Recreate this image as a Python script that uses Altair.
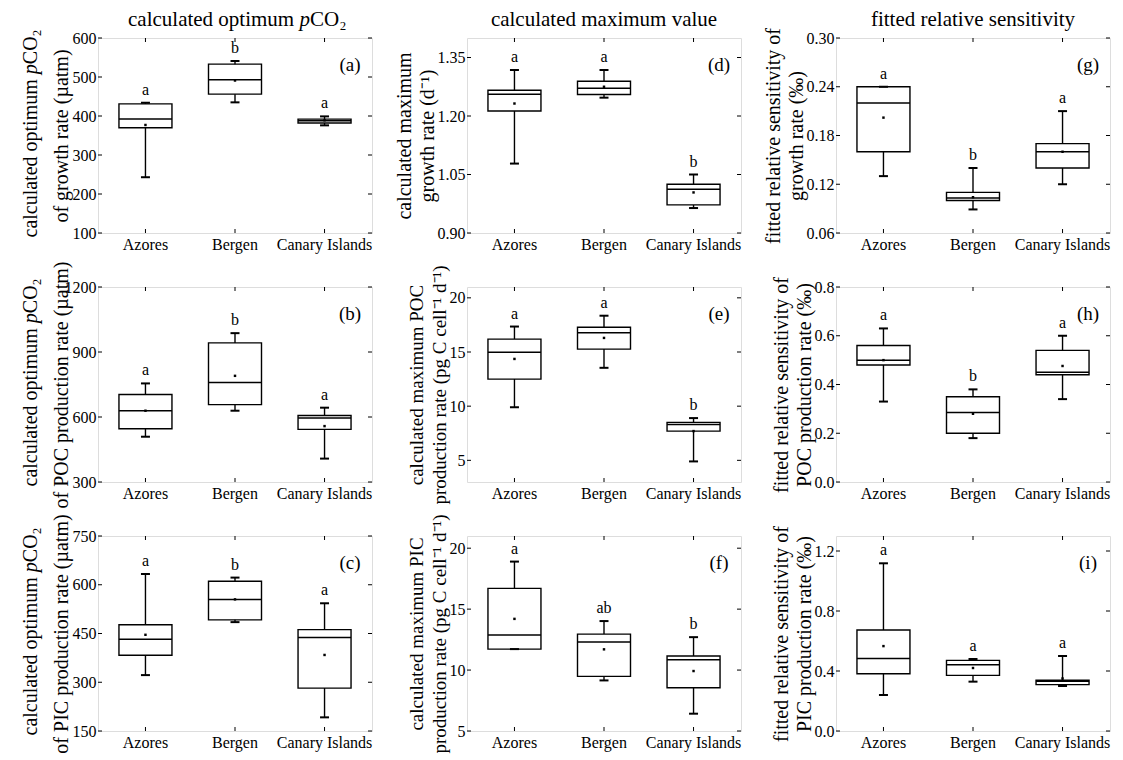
import altair as alt
import pandas as pd

SITES = ["Azores", "Bergen", "Canary Islands"]

# (a) optimum pCO2 of growth rate
a_low = [243, 435, 376]
a_q1 = [370, 456, 382]
a_med = [392, 493, 388]
a_q3 = [431, 533, 392]
a_high = [434, 541, 399]
a_mean = [377, 491, 389]
a_sig = ["a", "b", "a"]
a_ticks = [100, 200, 300, 400, 500, 600]

# (b) optimum pCO2 of POC production rate
b_low = [509, 629, 408]
b_q1 = [546, 657, 543]
b_med = [629, 759, 595]
b_q3 = [704, 942, 607]
b_high = [755, 987, 643]
b_mean = [629, 790, 558]
b_sig = ["a", "b", "a"]
b_ticks = [300, 600, 900, 1200]

# (c) optimum pCO2 of PIC production rate
c_low = [322, 485, 192]
c_q1 = [383, 492, 282]
c_med = [432, 555, 438]
c_q3 = [477, 611, 462]
c_high = [633, 622, 543]
c_mean = [446, 555, 384]
c_sig = ["a", "b", "a"]
c_ticks = [150, 300, 450, 600, 750]

# (d) maximum growth rate
d_low = [1.078, 1.247, 0.964]
d_q1 = [1.213, 1.255, 0.972]
d_med = [1.256, 1.271, 1.012]
d_q3 = [1.266, 1.289, 1.025]
d_high = [1.318, 1.318, 1.050]
d_mean = [1.232, 1.275, 1.004]
d_sig = ["a", "a", "b"]
d_ticks = [0.90, 1.05, 1.20, 1.35]

# (e) maximum POC production rate
e_low = [9.9, 13.54, 4.9]
e_q1 = [12.5, 15.27, 7.7]
e_med = [14.97, 16.77, 8.3]
e_q3 = [16.19, 17.29, 8.5]
e_high = [17.35, 18.35, 8.9]
e_mean = [14.36, 16.3, 7.7]
e_sig = ["a", "a", "b"]
e_ticks = [5, 10, 15, 20]

# (f) maximum PIC production rate
f_low = [11.72, 9.15, 6.42]
f_q1 = [11.72, 9.48, 8.55]
f_med = [12.87, 12.3, 10.85]
f_q3 = [16.7, 12.95, 11.15]
f_high = [18.9, 14.02, 12.7]
f_mean = [14.2, 11.7, 9.92]
f_sig = ["a", "ab", "b"]
f_ticks = [5, 10, 15, 20]

# (g) relative sensitivity of growth rate
g_low = [0.13, 0.089, 0.12]
g_q1 = [0.16, 0.100, 0.14]
g_med = [0.22, 0.103, 0.16]
g_q3 = [0.24, 0.110, 0.17]
g_high = [0.24, 0.140, 0.21]
g_mean = [0.202, 0.104, 0.16]
g_sig = ["a", "b", "a"]
g_ticks = [0.06, 0.12, 0.18, 0.24, 0.30]

# (h) relative sensitivity of POC production rate
h_low = [0.33, 0.18, 0.34]
h_q1 = [0.48, 0.20, 0.44]
h_med = [0.50, 0.285, 0.45]
h_q3 = [0.56, 0.35, 0.54]
h_high = [0.63, 0.38, 0.60]
h_mean = [0.50, 0.28, 0.476]
h_sig = ["a", "b", "a"]
h_ticks = [0.0, 0.2, 0.4, 0.6, 0.8]

# (i) relative sensitivity of PIC production rate
i_low = [0.24, 0.329, 0.30]
i_q1 = [0.382, 0.371, 0.309]
i_med = [0.484, 0.442, 0.331]
i_q3 = [0.673, 0.471, 0.338]
i_high = [1.118, 0.48, 0.50]
i_mean = [0.566, 0.42, 0.35]
i_sig = ["a", "a", "a"]
i_ticks = [0.0, 0.4, 0.8, 1.2]

FONT = "Liberation Serif"
W, H = 274, 195
BOX_W = 53
TK = 4
ONE = pd.DataFrame({"k": [0]})


def txt(s, x, y, size, align="left", angle=0, style="normal"):
    return alt.Chart(ONE).mark_text(
        text=s, font=FONT, fontSize=size, align=align, baseline="alphabetic",
        angle=angle, fontStyle=style, color="black").encode(x=alt.value(x), y=alt.value(y))


def pco2_pieces(size, start, fixed, vertical):
    # "calculated optimum " + italic "p" + "CO₂", laid out piece by piece
    w1 = 8.166 * size
    wp = 0.5 * size
    if vertical:
        return [txt("calculated optimum ", fixed, start, size, angle=270),
                txt("p", fixed, start - w1, size, angle=270, style="italic"),
                txt("CO₂", fixed, start - w1 - wp, size, angle=270)]
    return [txt("calculated optimum ", start, fixed, size),
            txt("p", start + w1, fixed, size, style="italic"),
            txt("CO₂", start + w1 + wp, fixed, size)]


def panel(label, low, q1, med, q3, high, mean, sig, ticks, domain, fmt, ytitle,
          coltitle=None, ext=None, tsize=20):
    df = pd.DataFrame({"site": SITES, "low": low, "q1": q1, "med": med,
                       "q3": q3, "high": high, "mean": mean, "sig": sig})
    tdf = pd.DataFrame({"v": ticks})
    xs = alt.Scale(domain=SITES, paddingInner=0, paddingOuter=0.03)
    xax = alt.Axis(title=None, labelAngle=0, ticks=False, domain=False, grid=False,
                   labelFont=FONT, labelFontSize=16, labelColor="black", labelPadding=3)
    ys = alt.Scale(domain=domain, nice=False, zero=False)
    ykw = dict(values=ticks, format=fmt, ticks=False, domain=False, grid=False,
               labelFont=FONT, labelFontSize=16, labelColor="black", labelPadding=2,
               labelFlush=False, labelOverlap=False, labelBound=False,
               title=ytitle, titleFont=FONT, titleFontSize=tsize, titleFontWeight="normal",
               titleColor="black", titleLineHeight=23, titlePadding=0)
    if ext is not None:
        ykw["minExtent"] = ext
        ykw["maxExtent"] = ext
    yax = alt.Axis(**ykw)

    def X():
        return alt.X("site:N", scale=xs, axis=xax)

    def Y(f):
        return alt.Y(f, scale=ys, axis=yax)

    base = alt.Chart(df)
    whisk = base.mark_rule(color="black", strokeWidth=1.4).encode(x=X(), y=Y("low:Q"), y2="high:Q")
    box = base.mark_bar(size=BOX_W, fill="white", stroke="black", strokeWidth=1.4).encode(
        x=X(), y=Y("q1:Q"), y2="q3:Q")
    median = base.mark_tick(size=BOX_W, thickness=1.5, color="black", opacity=1).encode(
        x=X(), y=Y("med:Q"))
    cap_lo = base.mark_tick(size=9, thickness=2, color="black", opacity=1).encode(x=X(), y=Y("low:Q"))
    cap_hi = base.mark_tick(size=9, thickness=2, color="black", opacity=1).encode(x=X(), y=Y("high:Q"))
    mn = base.mark_square(size=6, color="black", opacity=1).encode(x=X(), y=Y("mean:Q"))
    letters = base.mark_text(font=FONT, fontSize=16, dy=-13, baseline="middle", color="black").encode(
        x=X(), y=Y("high:Q"), text="sig:N")
    tick_l = alt.Chart(tdf).mark_rule(color="black", strokeWidth=1).encode(
        x=alt.value(0), x2=alt.value(TK), y=Y("v:Q"))
    tick_r = alt.Chart(tdf).mark_rule(color="black", strokeWidth=1).encode(
        x=alt.value(W - TK), x2=alt.value(W), y=Y("v:Q"))
    tick_b = base.mark_rule(color="black", strokeWidth=1).encode(
        x=X(), y=alt.value(H), y2=alt.value(H - TK))
    tick_t = base.mark_rule(color="black", strokeWidth=1).encode(
        x=X(), y=alt.value(0), y2=alt.value(TK))
    lab = alt.Chart(pd.DataFrame({"t": [label]})).mark_text(
        font=FONT, fontSize=19, align="center", baseline="middle", color="black").encode(
        x=alt.value(W - 22), y=alt.value(27), text="t:N")
    layers = [tick_l, tick_r, tick_b, tick_t, whisk, box, median, cap_lo, cap_hi, mn, letters, lab]
    if ext is not None:
        # first line of the y title, with an italic p
        layers += pco2_pieces(20, H / 2 - 2 + 104, -61, vertical=True)
    if coltitle == "pco2":
        layers += pco2_pieces(21, 30, -12, vertical=False)
    elif coltitle:
        layers.append(txt(coltitle, W / 2, -12, 21, align="center"))
    return alt.layer(*layers).properties(width=W, height=H)


pa = panel("(a)", a_low, a_q1, a_med, a_q3, a_high, a_mean, a_sig, a_ticks, [100, 600], "d",
           "of growth rate (µatm)", coltitle="pco2", ext=27)
pb = panel("(b)", b_low, b_q1, b_med, b_q3, b_high, b_mean, b_sig, b_ticks, [300, 1200], "d",
           "of POC production rate (µatm)", ext=27)
pc = panel("(c)", c_low, c_q1, c_med, c_q3, c_high, c_mean, c_sig, c_ticks, [150, 750], "d",
           "of PIC production rate (µatm)", ext=27)
pd_ = panel("(d)", d_low, d_q1, d_med, d_q3, d_high, d_mean, d_sig, d_ticks, [0.9, 1.4], ".2f",
            ["calculated maximum", "growth rate (d⁻¹)"], coltitle="calculated maximum value")
pe = panel("(e)", e_low, e_q1, e_med, e_q3, e_high, e_mean, e_sig, e_ticks, [3, 21], "d",
           ["calculated maximum POC", "production rate (pg C cell⁻¹ d⁻¹)"], tsize=19)
pf = panel("(f)", f_low, f_q1, f_med, f_q3, f_high, f_mean, f_sig, f_ticks, [5, 21], "d",
           ["calculated maximum PIC", "production rate (pg C cell⁻¹ d⁻¹)"], tsize=19)
pg = panel("(g)", g_low, g_q1, g_med, g_q3, g_high, g_mean, g_sig, g_ticks, [0.06, 0.30], ".2f",
           ["fitted relative sensitivity of", "growth rate (‰)"], coltitle="fitted relative sensitivity")
ph = panel("(h)", h_low, h_q1, h_med, h_q3, h_high, h_mean, h_sig, h_ticks, [0.0, 0.8], ".1f",
           ["fitted relative sensitivity of", "POC production rate (‰)"])
pi = panel("(i)", i_low, i_q1, i_med, i_q3, i_high, i_mean, i_sig, i_ticks, [0.0, 1.3], ".1f",
           ["fitted relative sensitivity of", "PIC production rate (‰)"])

chart = alt.concat(pa, pd_, pg, pb, pe, ph, pc, pf, pi, columns=3,
                   spacing={"row": 54, "column": 95}, bounds="flush").properties(
    padding={"left": 12, "top": 0, "right": 0, "bottom": 0}
).configure_view(stroke="black", strokeWidth=1.2).configure_axis(grid=False).configure(background="white")

chart.save("out.html", embed_options={"renderer": "svg", "actions": False})
